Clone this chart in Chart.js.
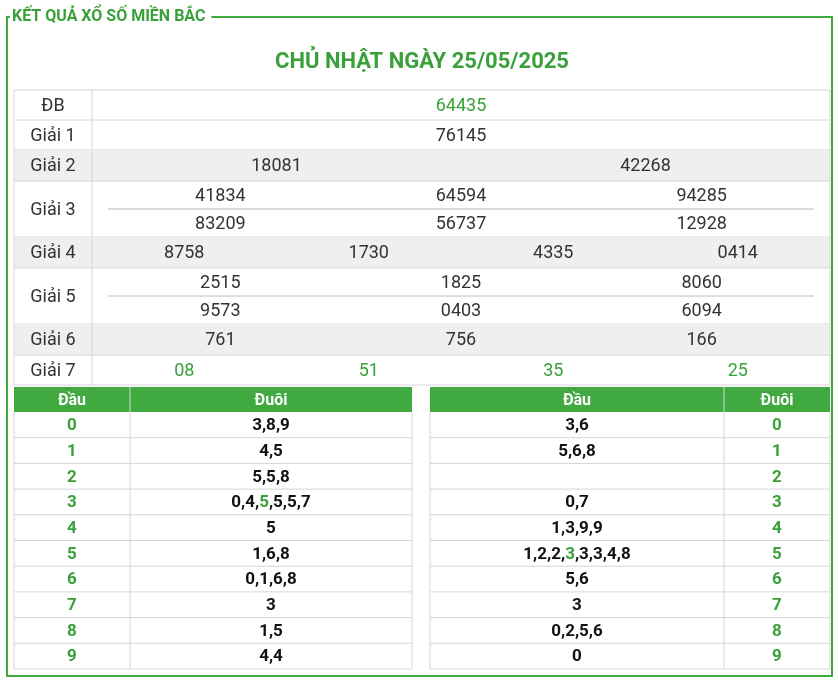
<!DOCTYPE html><html><head><meta charset="utf-8">
<script src="https://cdn.jsdelivr.net/npm/chart.js@4"></script>
<style>html,body{margin:0;padding:0;background:#fff}#w{width:838px;height:681px}</style></head><body>
<div id="w"><canvas id="c"></canvas></div>
<script>
const title = "KẾT QUẢ XỔ SỐ MIỀN BẮC";
const heading = "CHỦ NHẬT NGÀY 25/05/2025";
const prizeLabels = ["ĐB","Giải 1","Giải 2","Giải 3","Giải 4","Giải 5","Giải 6","Giải 7"];
const prizeDB = ["64435"];
const prize1 = ["76145"];
const prize2 = ["18081","42268"];
const prize3 = ["41834","64594","94285","83209","56737","12928"];
const prize4 = ["8758","1730","4335","0414"];
const prize5 = ["2515","1825","8060","9573","0403","6094"];
const prize6 = ["761","756","166"];
const prize7 = ["08","51","35","25"];
const digits = ["0","1","2","3","4","5","6","7","8","9"];
const duoiByDau = ["3,8,9","4,5","5,5,8","0,4,5,5,5,7","5","1,6,8","0,1,6,8","3","1,5","4,4"];
const dauByDuoi = ["3,6","5,6,8","","0,7","1,3,9,9","1,2,2,3,3,3,4,8","5,6","3","0,2,5,6","0"];
const hlLeft = {row:3, idx:2};
const hlRight = {row:5, idx:3};

const G="#3aa13a", GB="#40a940", GRAY="#efefef", LINE="#d6d6d6", TXT="#333";
const rows=[
 {label:0,y0:90,y1:120,cols:1,vals:prizeDB,gray:false,green:true},
 {label:1,y0:120,y1:150,cols:1,vals:prize1,gray:false},
 {label:2,y0:150,y1:181,cols:2,vals:prize2,gray:true},
 {label:3,y0:181,y1:237,cols:3,vals:prize3,gray:false},
 {label:4,y0:237,y1:268,cols:4,vals:prize4,gray:true},
 {label:5,y0:268,y1:324,cols:3,vals:prize5,gray:false},
 {label:6,y0:324,y1:355,cols:3,vals:prize6,gray:true},
 {label:7,y0:355,y1:385,cols:4,vals:prize7,gray:false,green:true}
];

const tablePlugin={id:'tbl',afterDraw(ch){
 const c=ch.ctx,X=v=>ch.scales.x.getPixelForValue(v),Y=v=>ch.scales.y.getPixelForValue(v);
 const rect=(x0,y0,x1,y1,f)=>{c.fillStyle=f;c.fillRect(X(x0),Y(y0),X(x1)-X(x0),Y(y1)-Y(y0));};
 const line=(x0,y0,x1,y1,col,w)=>{c.strokeStyle=col;c.lineWidth=w||1;c.beginPath();c.moveTo(X(x0),Y(y0));c.lineTo(X(x1),Y(y1));c.stroke();};
 const text=(s,x,y,font,col,al)=>{c.font=font;c.fillStyle=col;c.textAlign=al||'center';c.textBaseline='middle';c.fillText(s,X(x),Y(y));};
 c.save();
 c.strokeStyle=GB;c.lineWidth=2;c.strokeRect(X(7),Y(17),X(832)-X(7),Y(676)-Y(17));
 c.font="bold 16px Roboto";const tw=c.measureText(title).width;
 rect(10,8,14+tw+4,26,"#fff");
 text(title,12,17,"bold 16px Roboto",G,'left');
 text(heading,422,62,"bold 22px Roboto",G);
 const L=14,M=92,R=830;
 rows.forEach(r=>{
  if(r.gray) rect(L,r.y0,R,r.y1,GRAY);
  text(prizeLabels[r.label],(L+M)/2,(r.y0+r.y1)/2+1,"18px Roboto",TXT);
  const n=r.cols,sub=r.vals.length/n;
  const a=n===3?100:M, b=n===3?822:R, w=(b-a)/n, h=(r.y1-r.y0)/sub;
  r.vals.forEach((v,i)=>{const col=i%n,rw=Math.floor(i/n);
   text(v,a+w*(col+0.5),r.y0+h*(rw+0.5)+1,"18px Roboto",r.green?G:TXT);});
  if(sub>1) for(let k=1;k<sub;k++) line(108,r.y0+h*k,814,r.y0+h*k,"#bbb");
  line(L,r.y1,R,r.y1,LINE);
 });
 line(L,90,R,90,LINE);line(L,90,L,385,LINE);line(R,90,R,385,LINE);line(M,90,M,385,LINE);
 const lotoTable=(x0,xm,x1,leftDigit,arr,hl)=>{
  const y0=387,hy=412,rh=(669-412)/10;
  rect(x0,y0,x1,hy,GB);
  text("Đầu",(x0+xm)/2,(y0+hy)/2+1,"bold 16px Roboto","#fff");
  text("Đuôi",(xm+x1)/2,(y0+hy)/2+1,"bold 16px Roboto","#fff");
  for(let i=0;i<10;i++){
   const yc=hy+rh*(i+0.5)+1;
   const dx=leftDigit?(x0+xm)/2:(xm+x1)/2, vx=leftDigit?(xm+x1)/2:(x0+xm)/2;
   text(digits[i],dx,yc,"bold 17px Roboto",G);
   const s=arr[i];
   if(s){c.font="bold 17px Roboto";const parts=s.split(",");
    const full=c.measureText(s).width;let px=X(vx)-full/2;
    c.textAlign='left';c.textBaseline='middle';
    parts.forEach((p,j)=>{
     if(j>0){c.fillStyle="#111";c.fillText(",",px,Y(yc));px+=c.measureText(",").width;}
     c.fillStyle=(hl.row===i&&hl.idx===j)?G:"#111";c.fillText(p,px,Y(yc));px+=c.measureText(p).width;});}
   line(x0,hy+rh*(i+1),x1,hy+rh*(i+1),LINE);
  }
  line(x0,hy,x0,669,LINE);line(x1,hy,x1,669,LINE);line(xm,y0,xm,669,LINE);
 };
 lotoTable(14,130,412,true,duoiByDau,hlLeft);
 lotoTable(430,724,830,false,dauByDuoi,hlRight);
 c.restore();
}};
new Chart(document.getElementById('c'),{type:'scatter',data:{datasets:[{data:[]}]},
 options:{responsive:true,maintainAspectRatio:false,animation:false,layout:{padding:0},
  plugins:{legend:{display:false},tooltip:{enabled:false}},
  scales:{x:{type:'linear',min:0,max:838,display:false},y:{type:'linear',min:0,max:681,reverse:true,display:false}}},
 plugins:[tablePlugin]});
</script></body></html>
